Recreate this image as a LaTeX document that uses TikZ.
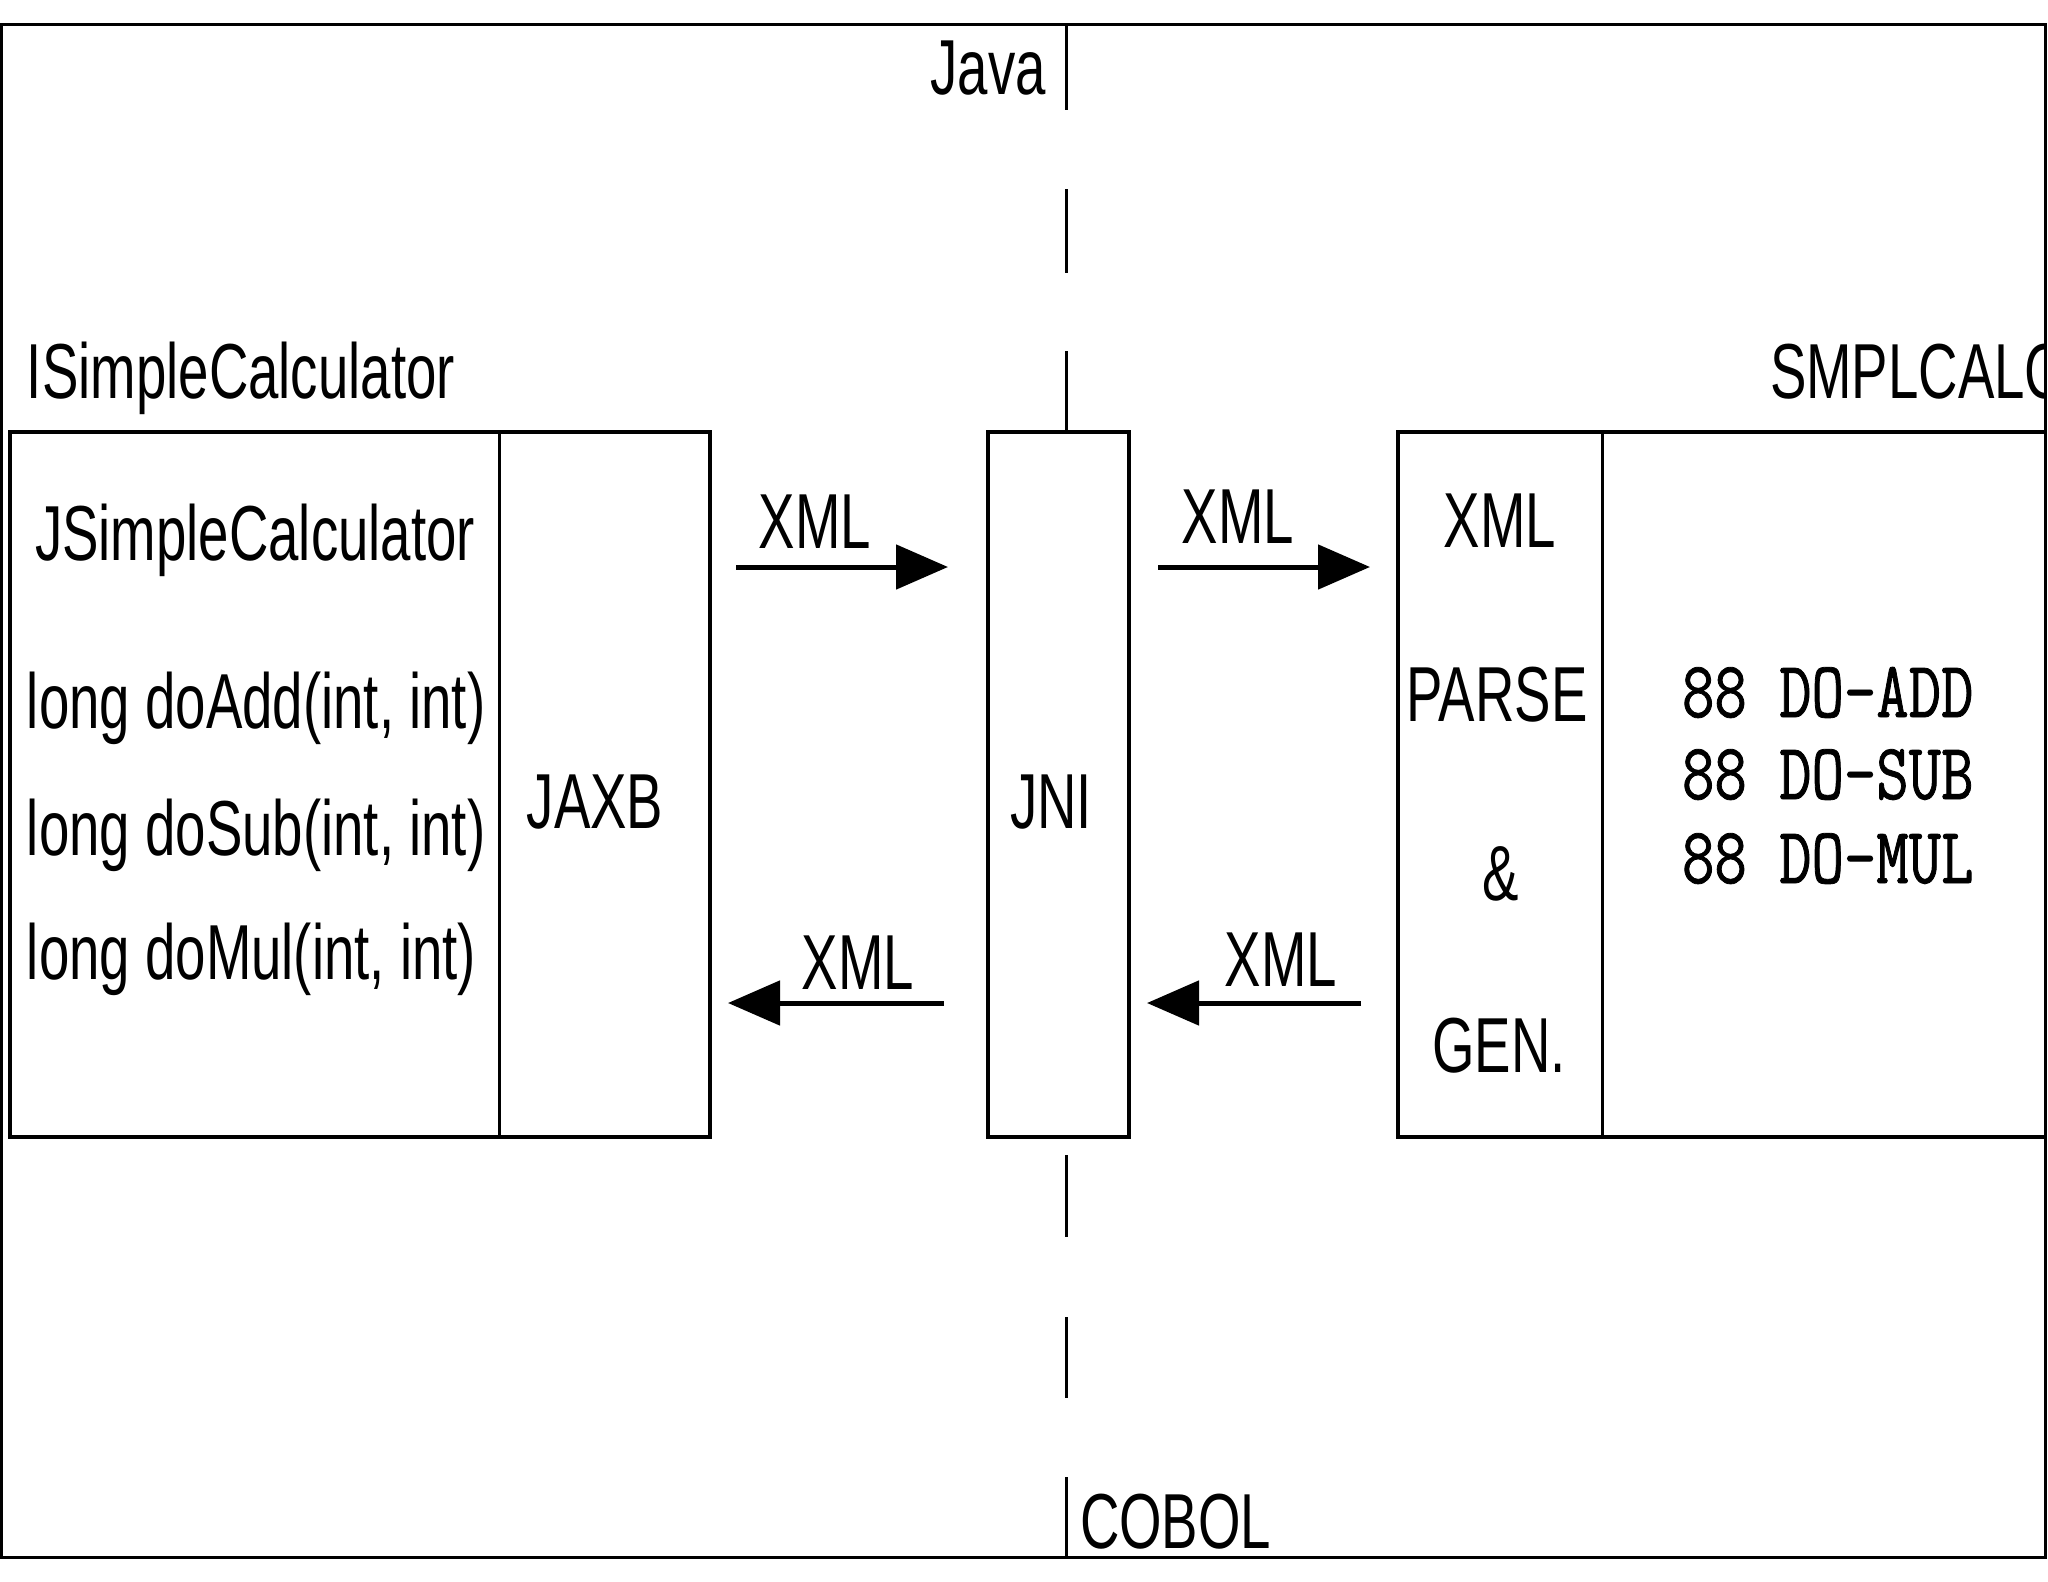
\documentclass[tikz,border=0pt]{standalone}
\usepackage{fontspec}
\setmainfont{Liberation Sans}[FakeStretch=0.70]
\newfontfamily\monof{Latin Modern Mono}[FakeStretch=0.786,FakeBold=1]
\usetikzlibrary{arrows.meta}
\begin{document}
\begin{tikzpicture}[x=1pt,y=-1pt,
  txt/.style={inner sep=0pt, outer sep=0pt, font=\fontsize{78}{80}\selectfont},
  mono/.style={inner sep=0pt, outer sep=0pt, font=\monof\fontsize{80}{82}\selectfont},
  box/.style={draw=black, line width=4.5pt, inner sep=0pt, outer sep=0pt, anchor=north west},
  frameline/.style={draw=black, line width=3pt},
  divider/.style={draw=black, line width=3pt},
  xmlarrow/.style={draw=black, line width=5pt, -{Triangle[length=52pt,width=44pt]}},
]
\useasboundingbox (0,0) rectangle (2048,1582);
\fill[white] (0,0) rectangle (2048,1582);

% --- boxes ---
\node[box, minimum width=700pt, minimum height=705pt] (lbox) at (10,432) {};
\draw[divider] ([xshift=489pt]lbox.north west) -- ([xshift=489pt]lbox.south west);
\node[box, minimum width=141pt, minimum height=705pt] (jni) at (988,432) {};
\begin{scope}
  \clip (0,0) rectangle (2045,1582);
  \node[box, minimum width=800pt, minimum height=705pt] (rbox) at (1398,432) {};
  \draw[divider] ([xshift=204pt]rbox.north west) -- ([xshift=204pt]rbox.south west);
  \node[txt, anchor=base west] (smpl) at (1770,398) {SMPLCALC};
\end{scope}

% --- frame ---
\draw[frameline] (1.5,24) rectangle (2045,1557);

% --- Java / COBOL divider ---
\coordinate (d1a) at (1066,24);   \coordinate (d1b) at (1066,110);
\coordinate (d2a) at (1066,189);  \coordinate (d2b) at (1066,273);
\coordinate (d3a) at (1066,351);
\coordinate (d4a) at (1066,1155); \coordinate (d4b) at (1066,1237);
\coordinate (d5a) at (1066,1317); \coordinate (d5b) at (1066,1398);
\coordinate (d6a) at (1066,1477); \coordinate (d6b) at (1066,1557);
\draw[divider] (d1a) -- (d1b);
\draw[divider] (d2a) -- (d2b);
\draw[divider] (d3a) -- (d3a |- jni.north);
\draw[divider] (d4a) -- (d4b);
\draw[divider] (d5a) -- (d5b);
\draw[divider] (d6a) -- (d6b);

% --- texts ---
\node[txt, anchor=base east] (java) at (1046,94) {Java};
\node[txt, anchor=base west] (cobol) at (1080,1548) {COBOL};
\node[txt, anchor=base west] (isc) at (27,398) {ISimpleCalculator};
\node[txt, anchor=base] (jscname) at (255,560) {JSimpleCalculator};
\node[txt, anchor=base west] (m1) at (27,728) {long doAdd(int, int)};
\node[txt, anchor=base west] (m2) at (27,855) {long doSub(int, int)};
\node[txt, anchor=base west] (m3) at (27,979) {long doMul(int, int)};
\node[txt, anchor=base] (jaxb) at (595,828) {JAXB};
\node[txt, anchor=base] (jnit) at (1051,828) {JNI};
\node[txt, anchor=base] (px1) at (1500,547) {XML};
\node[txt, anchor=base] (px2) at (1497,721) {PARSE};
\node[txt, anchor=base] (px3) at (1501,900) {\&};
\node[txt, anchor=base] (px4) at (1499,1072) {GEN.};
\node[mono, anchor=base west] (c1) at (1682,717) {88 DO-ADD};
\node[mono, anchor=base west] (c2) at (1682,799) {88 DO-SUB};
\node[mono, anchor=base west] (c3) at (1682,883) {88 DO-MUL};

% --- XML arrows ---
\coordinate (a1s) at (736,567);  \coordinate (a1e) at (948,567);
\coordinate (a2s) at (1158,567); \coordinate (a2e) at (1370,567);
\coordinate (a3s) at (944,1003); \coordinate (a3e) at (728,1003);
\coordinate (a4s) at (1361,1003);\coordinate (a4e) at (1147,1003);
\draw[xmlarrow] (a1s) -- (a1e);
\draw[xmlarrow] (a2s) -- (a2e);
\draw[xmlarrow] (a3s) -- (a3e);
\draw[xmlarrow] (a4s) -- (a4e);
\node[txt, anchor=base] (x1) at (815,548) {XML};
\node[txt, anchor=base] (x2) at (1238,543) {XML};
\node[txt, anchor=base] (x3) at (858,989) {XML};
\node[txt, anchor=base] (x4) at (1281,986) {XML};
\end{tikzpicture}
\end{document}
